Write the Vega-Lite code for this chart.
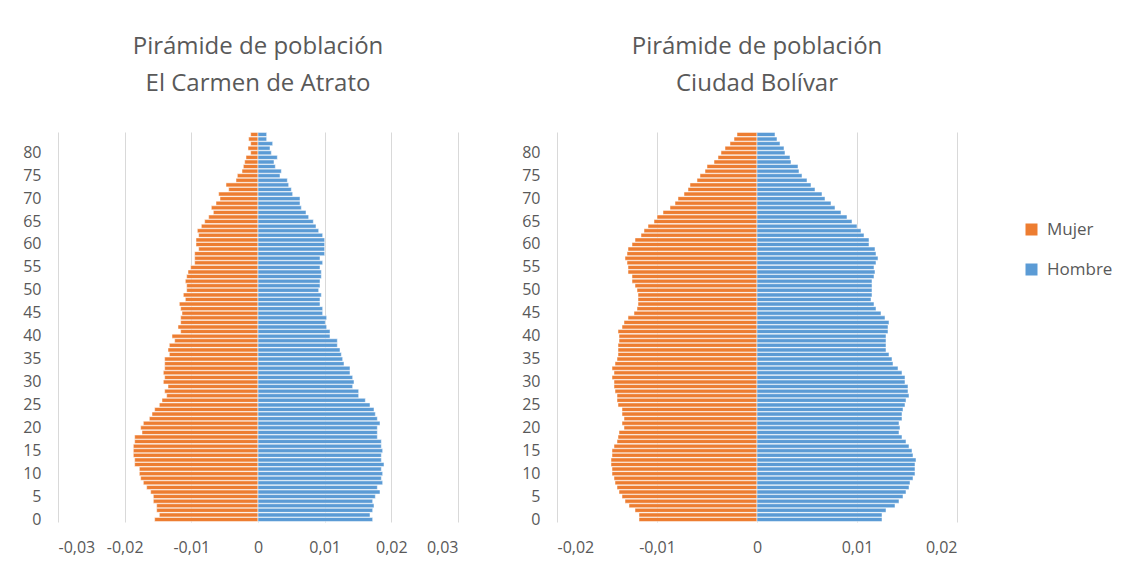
{
  "$schema": "https://vega.github.io/schema/vega-lite/v6.json",
  "padding": {"left": 22, "top": 35, "right": 0, "bottom": 5},
  "background": "white",
  "datasets": {
    "carmen": [
      {"edad": 84, "Mujer": -0.0011, "Hombre": 0.0013},
      {"edad": 83, "Mujer": -0.0014, "Hombre": 0.0013},
      {"edad": 82, "Mujer": -0.0011, "Hombre": 0.0022},
      {"edad": 81, "Mujer": -0.0015, "Hombre": 0.0018},
      {"edad": 80, "Mujer": -0.0011, "Hombre": 0.0020},
      {"edad": 79, "Mujer": -0.0018, "Hombre": 0.0029},
      {"edad": 78, "Mujer": -0.0020, "Hombre": 0.0024},
      {"edad": 77, "Mujer": -0.0022, "Hombre": 0.0026},
      {"edad": 76, "Mujer": -0.0024, "Hombre": 0.0035},
      {"edad": 75, "Mujer": -0.0031, "Hombre": 0.0033},
      {"edad": 74, "Mujer": -0.0033, "Hombre": 0.0044},
      {"edad": 73, "Mujer": -0.0048, "Hombre": 0.0046},
      {"edad": 72, "Mujer": -0.0044, "Hombre": 0.0050},
      {"edad": 71, "Mujer": -0.0059, "Hombre": 0.0052},
      {"edad": 70, "Mujer": -0.0057, "Hombre": 0.0063},
      {"edad": 69, "Mujer": -0.0063, "Hombre": 0.0063},
      {"edad": 68, "Mujer": -0.0070, "Hombre": 0.0065},
      {"edad": 67, "Mujer": -0.0067, "Hombre": 0.0072},
      {"edad": 66, "Mujer": -0.0074, "Hombre": 0.0076},
      {"edad": 65, "Mujer": -0.0080, "Hombre": 0.0083},
      {"edad": 64, "Mujer": -0.0085, "Hombre": 0.0087},
      {"edad": 63, "Mujer": -0.0091, "Hombre": 0.0091},
      {"edad": 62, "Mujer": -0.0089, "Hombre": 0.0097},
      {"edad": 61, "Mujer": -0.0093, "Hombre": 0.0100},
      {"edad": 60, "Mujer": -0.0093, "Hombre": 0.0100},
      {"edad": 59, "Mujer": -0.0089, "Hombre": 0.0100},
      {"edad": 58, "Mujer": -0.0095, "Hombre": 0.0100},
      {"edad": 57, "Mujer": -0.0095, "Hombre": 0.0093},
      {"edad": 56, "Mujer": -0.0095, "Hombre": 0.0097},
      {"edad": 55, "Mujer": -0.0101, "Hombre": 0.0093},
      {"edad": 54, "Mujer": -0.0105, "Hombre": 0.0095},
      {"edad": 53, "Mujer": -0.0107, "Hombre": 0.0095},
      {"edad": 52, "Mujer": -0.0109, "Hombre": 0.0093},
      {"edad": 51, "Mujer": -0.0107, "Hombre": 0.0093},
      {"edad": 50, "Mujer": -0.0107, "Hombre": 0.0091},
      {"edad": 49, "Mujer": -0.0112, "Hombre": 0.0095},
      {"edad": 48, "Mujer": -0.0109, "Hombre": 0.0093},
      {"edad": 47, "Mujer": -0.0118, "Hombre": 0.0093},
      {"edad": 46, "Mujer": -0.0116, "Hombre": 0.0097},
      {"edad": 45, "Mujer": -0.0114, "Hombre": 0.0097},
      {"edad": 44, "Mujer": -0.0116, "Hombre": 0.0103},
      {"edad": 43, "Mujer": -0.0116, "Hombre": 0.0101},
      {"edad": 42, "Mujer": -0.0120, "Hombre": 0.0103},
      {"edad": 41, "Mujer": -0.0116, "Hombre": 0.0108},
      {"edad": 40, "Mujer": -0.0129, "Hombre": 0.0108},
      {"edad": 39, "Mujer": -0.0125, "Hombre": 0.0119},
      {"edad": 38, "Mujer": -0.0133, "Hombre": 0.0119},
      {"edad": 37, "Mujer": -0.0135, "Hombre": 0.0123},
      {"edad": 36, "Mujer": -0.0133, "Hombre": 0.0125},
      {"edad": 35, "Mujer": -0.0140, "Hombre": 0.0127},
      {"edad": 34, "Mujer": -0.0140, "Hombre": 0.0129},
      {"edad": 33, "Mujer": -0.0140, "Hombre": 0.0138},
      {"edad": 32, "Mujer": -0.0142, "Hombre": 0.0138},
      {"edad": 31, "Mujer": -0.0140, "Hombre": 0.0142},
      {"edad": 30, "Mujer": -0.0142, "Hombre": 0.0144},
      {"edad": 29, "Mujer": -0.0135, "Hombre": 0.0142},
      {"edad": 28, "Mujer": -0.0140, "Hombre": 0.0151},
      {"edad": 27, "Mujer": -0.0137, "Hombre": 0.0151},
      {"edad": 26, "Mujer": -0.0144, "Hombre": 0.0161},
      {"edad": 25, "Mujer": -0.0148, "Hombre": 0.0168},
      {"edad": 24, "Mujer": -0.0155, "Hombre": 0.0174},
      {"edad": 23, "Mujer": -0.0159, "Hombre": 0.0176},
      {"edad": 22, "Mujer": -0.0163, "Hombre": 0.0179},
      {"edad": 21, "Mujer": -0.0172, "Hombre": 0.0183},
      {"edad": 20, "Mujer": -0.0176, "Hombre": 0.0179},
      {"edad": 19, "Mujer": -0.0174, "Hombre": 0.0179},
      {"edad": 18, "Mujer": -0.0185, "Hombre": 0.0179},
      {"edad": 17, "Mujer": -0.0185, "Hombre": 0.0185},
      {"edad": 16, "Mujer": -0.0187, "Hombre": 0.0185},
      {"edad": 15, "Mujer": -0.0187, "Hombre": 0.0187},
      {"edad": 14, "Mujer": -0.0187, "Hombre": 0.0185},
      {"edad": 13, "Mujer": -0.0185, "Hombre": 0.0185},
      {"edad": 12, "Mujer": -0.0185, "Hombre": 0.0189},
      {"edad": 11, "Mujer": -0.0178, "Hombre": 0.0185},
      {"edad": 10, "Mujer": -0.0178, "Hombre": 0.0187},
      {"edad": 9, "Mujer": -0.0176, "Hombre": 0.0185},
      {"edad": 8, "Mujer": -0.0172, "Hombre": 0.0187},
      {"edad": 7, "Mujer": -0.0167, "Hombre": 0.0179},
      {"edad": 6, "Mujer": -0.0161, "Hombre": 0.0183},
      {"edad": 5, "Mujer": -0.0157, "Hombre": 0.0176},
      {"edad": 4, "Mujer": -0.0157, "Hombre": 0.0172},
      {"edad": 3, "Mujer": -0.0152, "Hombre": 0.0174},
      {"edad": 2, "Mujer": -0.0152, "Hombre": 0.0172},
      {"edad": 1, "Mujer": -0.0148, "Hombre": 0.0168},
      {"edad": 0, "Mujer": -0.0155, "Hombre": 0.0172}
    ],
    "bolivar": [
      {"edad": 84, "Mujer": -0.0020, "Hombre": 0.0018},
      {"edad": 83, "Mujer": -0.0023, "Hombre": 0.0020},
      {"edad": 82, "Mujer": -0.0027, "Hombre": 0.0023},
      {"edad": 81, "Mujer": -0.0032, "Hombre": 0.0027},
      {"edad": 80, "Mujer": -0.0036, "Hombre": 0.0028},
      {"edad": 79, "Mujer": -0.0039, "Hombre": 0.0033},
      {"edad": 78, "Mujer": -0.0043, "Hombre": 0.0034},
      {"edad": 77, "Mujer": -0.0050, "Hombre": 0.0041},
      {"edad": 76, "Mujer": -0.0052, "Hombre": 0.0042},
      {"edad": 75, "Mujer": -0.0057, "Hombre": 0.0045},
      {"edad": 74, "Mujer": -0.0060, "Hombre": 0.0050},
      {"edad": 73, "Mujer": -0.0067, "Hombre": 0.0054},
      {"edad": 72, "Mujer": -0.0069, "Hombre": 0.0058},
      {"edad": 71, "Mujer": -0.0073, "Hombre": 0.0065},
      {"edad": 70, "Mujer": -0.0079, "Hombre": 0.0068},
      {"edad": 69, "Mujer": -0.0082, "Hombre": 0.0074},
      {"edad": 68, "Mujer": -0.0087, "Hombre": 0.0078},
      {"edad": 67, "Mujer": -0.0094, "Hombre": 0.0084},
      {"edad": 66, "Mujer": -0.0100, "Hombre": 0.0090},
      {"edad": 65, "Mujer": -0.0103, "Hombre": 0.0095},
      {"edad": 64, "Mujer": -0.0109, "Hombre": 0.0100},
      {"edad": 63, "Mujer": -0.0113, "Hombre": 0.0104},
      {"edad": 62, "Mujer": -0.0116, "Hombre": 0.0107},
      {"edad": 61, "Mujer": -0.0122, "Hombre": 0.0112},
      {"edad": 60, "Mujer": -0.0125, "Hombre": 0.0112},
      {"edad": 59, "Mujer": -0.0129, "Hombre": 0.0118},
      {"edad": 58, "Mujer": -0.0130, "Hombre": 0.0119},
      {"edad": 57, "Mujer": -0.0132, "Hombre": 0.0121},
      {"edad": 56, "Mujer": -0.0130, "Hombre": 0.0119},
      {"edad": 55, "Mujer": -0.0129, "Hombre": 0.0117},
      {"edad": 54, "Mujer": -0.0129, "Hombre": 0.0118},
      {"edad": 53, "Mujer": -0.0125, "Hombre": 0.0117},
      {"edad": 52, "Mujer": -0.0125, "Hombre": 0.0115},
      {"edad": 51, "Mujer": -0.0122, "Hombre": 0.0115},
      {"edad": 50, "Mujer": -0.0120, "Hombre": 0.0115},
      {"edad": 49, "Mujer": -0.0119, "Hombre": 0.0115},
      {"edad": 48, "Mujer": -0.0119, "Hombre": 0.0114},
      {"edad": 47, "Mujer": -0.0119, "Hombre": 0.0117},
      {"edad": 46, "Mujer": -0.0120, "Hombre": 0.0119},
      {"edad": 45, "Mujer": -0.0123, "Hombre": 0.0124},
      {"edad": 44, "Mujer": -0.0129, "Hombre": 0.0128},
      {"edad": 43, "Mujer": -0.0133, "Hombre": 0.0132},
      {"edad": 42, "Mujer": -0.0135, "Hombre": 0.0131},
      {"edad": 41, "Mujer": -0.0139, "Hombre": 0.0131},
      {"edad": 40, "Mujer": -0.0138, "Hombre": 0.0129},
      {"edad": 39, "Mujer": -0.0138, "Hombre": 0.0129},
      {"edad": 38, "Mujer": -0.0139, "Hombre": 0.0129},
      {"edad": 37, "Mujer": -0.0139, "Hombre": 0.0129},
      {"edad": 36, "Mujer": -0.0139, "Hombre": 0.0132},
      {"edad": 35, "Mujer": -0.0140, "Hombre": 0.0135},
      {"edad": 34, "Mujer": -0.0142, "Hombre": 0.0136},
      {"edad": 33, "Mujer": -0.0145, "Hombre": 0.0141},
      {"edad": 32, "Mujer": -0.0143, "Hombre": 0.0145},
      {"edad": 31, "Mujer": -0.0145, "Hombre": 0.0148},
      {"edad": 30, "Mujer": -0.0143, "Hombre": 0.0148},
      {"edad": 29, "Mujer": -0.0143, "Hombre": 0.0151},
      {"edad": 28, "Mujer": -0.0142, "Hombre": 0.0151},
      {"edad": 27, "Mujer": -0.0140, "Hombre": 0.0152},
      {"edad": 26, "Mujer": -0.0140, "Hombre": 0.0149},
      {"edad": 25, "Mujer": -0.0139, "Hombre": 0.0148},
      {"edad": 24, "Mujer": -0.0135, "Hombre": 0.0146},
      {"edad": 23, "Mujer": -0.0135, "Hombre": 0.0145},
      {"edad": 22, "Mujer": -0.0133, "Hombre": 0.0145},
      {"edad": 21, "Mujer": -0.0135, "Hombre": 0.0142},
      {"edad": 20, "Mujer": -0.0133, "Hombre": 0.0143},
      {"edad": 19, "Mujer": -0.0138, "Hombre": 0.0142},
      {"edad": 18, "Mujer": -0.0139, "Hombre": 0.0145},
      {"edad": 17, "Mujer": -0.0140, "Hombre": 0.0149},
      {"edad": 16, "Mujer": -0.0143, "Hombre": 0.0152},
      {"edad": 15, "Mujer": -0.0145, "Hombre": 0.0155},
      {"edad": 14, "Mujer": -0.0145, "Hombre": 0.0156},
      {"edad": 13, "Mujer": -0.0146, "Hombre": 0.0159},
      {"edad": 12, "Mujer": -0.0146, "Hombre": 0.0158},
      {"edad": 11, "Mujer": -0.0145, "Hombre": 0.0158},
      {"edad": 10, "Mujer": -0.0145, "Hombre": 0.0158},
      {"edad": 9, "Mujer": -0.0143, "Hombre": 0.0156},
      {"edad": 8, "Mujer": -0.0142, "Hombre": 0.0153},
      {"edad": 7, "Mujer": -0.0140, "Hombre": 0.0152},
      {"edad": 6, "Mujer": -0.0138, "Hombre": 0.0149},
      {"edad": 5, "Mujer": -0.0135, "Hombre": 0.0146},
      {"edad": 4, "Mujer": -0.0132, "Hombre": 0.0142},
      {"edad": 3, "Mujer": -0.0128, "Hombre": 0.0138},
      {"edad": 2, "Mujer": -0.0122, "Hombre": 0.0129},
      {"edad": 1, "Mujer": -0.0118, "Hombre": 0.0125},
      {"edad": 0, "Mujer": -0.0118, "Hombre": 0.0125}
    ]
  },
  "config": {
    "font": "Open Sans",
    "view": {"stroke": null},
    "axis": {
      "labelFont": "Open Sans",
      "labelFontSize": 16,
      "labelColor": "#595959",
      "domain": false,
      "ticks": false,
      "title": null
    },
    "title": {
      "font": "Open Sans",
      "fontSize": 24,
      "fontWeight": "normal",
      "color": "#595959",
      "lineHeight": 37,
      "anchor": "middle",
      "offset": 36
    },
    "legend": {
      "labelFont": "Open Sans",
      "labelFontSize": 17,
      "labelColor": "#595959",
      "symbolType": "square",
      "symbolSize": 144,
      "symbolStrokeWidth": 0,
      "rowPadding": 22,
      "labelOffset": 7,
      "padding": 0
    }
  },
  "hconcat": [
    {
      "data": {"name": "carmen"},
      "transform": [{"fold": ["Mujer", "Hombre"], "as": ["sexo", "valor"]}],
      "title": {"text": ["Pirámide de población", "El Carmen de Atrato"]},
      "width": 400,
      "height": 390,
      "mark": {"type": "bar", "stroke": "white", "strokeWidth": 0.5},
      "encoding": {
        "y": {
          "field": "edad",
          "type": "ordinal",
          "sort": "descending",
          "scale": {"paddingInner": 0.12, "paddingOuter": 0.1},
          "axis": {"values": [0, 5, 10, 15, 20, 25, 30, 35, 40, 45, 50, 55, 60, 65, 70, 75, 80], "grid": false, "labelPadding": 17}
        },
        "x": {
          "field": "valor",
          "type": "quantitative",
          "stack": null,
          "scale": {"domain": [-0.03, 0.03], "nice": false},
          "axis": {
            "values": [-0.03, -0.02, -0.01, 0, 0.01, 0.02, 0.03],
            "grid": true,
            "gridColor": "#d9d9d9",
            "gridWidth": 1,
            "labelPadding": 17,
            "labelExpr": "datum.value == 0 ? '0' : (datum.value < 0 ? '-' : '') + '0,0' + format(abs(round(datum.value * 100)), 'd')"
          }
        },
        "color": {
          "field": "sexo",
          "type": "nominal",
          "scale": {"domain": ["Mujer", "Hombre"], "range": ["#ED7D31", "#5B9BD5"]},
          "legend": {"title": null, "orient": "none", "legendX": 965, "legendY": 89}
        }
      }
    },
    {
      "data": {"name": "bolivar"},
      "transform": [{"fold": ["Mujer", "Hombre"], "as": ["sexo", "valor"]}],
      "title": {"text": ["Pirámide de población", "Ciudad Bolívar"]},
      "width": 400,
      "height": 390,
      "mark": {"type": "bar", "stroke": "white", "strokeWidth": 0.5},
      "encoding": {
        "y": {
          "field": "edad",
          "type": "ordinal",
          "sort": "descending",
          "scale": {"paddingInner": 0.12, "paddingOuter": 0.1},
          "axis": {"values": [0, 5, 10, 15, 20, 25, 30, 35, 40, 45, 50, 55, 60, 65, 70, 75, 80], "grid": false, "labelPadding": 17}
        },
        "x": {
          "field": "valor",
          "type": "quantitative",
          "stack": null,
          "scale": {"domain": [-0.02, 0.02], "nice": false},
          "axis": {
            "values": [-0.02, -0.01, 0, 0.01, 0.02],
            "grid": true,
            "gridColor": "#d9d9d9",
            "gridWidth": 1,
            "labelPadding": 17,
            "labelExpr": "datum.value == 0 ? '0' : (datum.value < 0 ? '-' : '') + '0,0' + format(abs(round(datum.value * 100)), 'd')"
          }
        },
        "color": {
          "field": "sexo",
          "type": "nominal",
          "scale": {"domain": ["Mujer", "Hombre"], "range": ["#ED7D31", "#5B9BD5"]},
          "legend": {"title": null, "orient": "none", "legendX": 965, "legendY": 89}
        }
      }
    }
  ],
  "spacing": 99,
  "bounds": "flush"
}
